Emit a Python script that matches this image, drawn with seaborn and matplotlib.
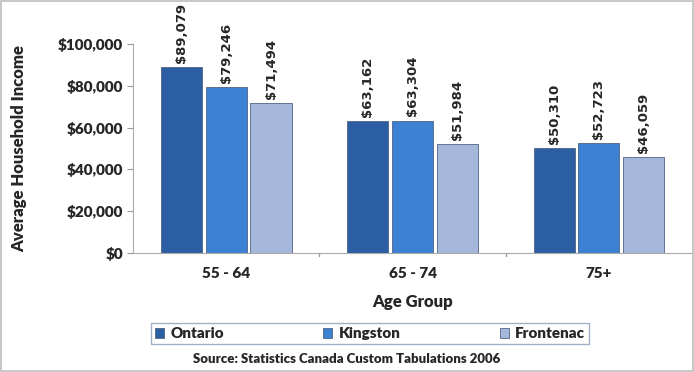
# average household income by age group, Ontario / Kingston / Frontenac
import pandas as pd
import matplotlib.pyplot as plt
import seaborn as sns

age_groups = ["55 - 64", "65 - 74", "75+"]
regions = ["Ontario", "Kingston", "Frontenac"]
ontario = [89079, 63162, 50310]
kingston = [79246, 63304, 52723]
frontenac = [71494, 51984, 46059]
colors = ["#2C5EA3", "#3D81D3", "#A5B7DA"]

df = pd.DataFrame({
    "age": age_groups * 3,
    "region": [r for r in regions for _ in age_groups],
    "income": ontario + kingston + frontenac,
})

sns.set_style("white")
plt.rcParams["font.family"] = ["Lato", "DejaVu Sans"]

fig = plt.figure(figsize=(6.94, 3.72), dpi=100)
fig.patch.set_edgecolor("#C8C8C8")
fig.patch.set_linewidth(1.5)
ax = fig.add_axes([0.192, 0.32, 0.805, 0.562])

sns.barplot(data=df, x="age", y="income", hue="region", order=age_groups,
            hue_order=regions, palette=colors, saturation=1, width=0.72,
            gap=0.08, edgecolor="#4F6484", linewidth=0.6, ax=ax, legend=True)

# value labels above each bar
for cont in ax.containers:
    ax.bar_label(cont, labels=[f"${v:,.0f}" for v in cont.datavalues],
                 rotation=90, padding=3, fontsize=9.5, fontweight="bold",
                 family="DejaVu Sans Condensed", clip_on=False)

ax.set_ylim(0, 100000)
ax.set_yticks(range(0, 100001, 20000))
ax.set_yticklabels([f"${v:,.0f}" for v in range(0, 100001, 20000)],
                   fontweight="heavy", fontsize=11)
ax.set_xticks(range(3))
ax.set_xticklabels(age_groups, fontweight="heavy", fontsize=11)
ax.set_xlim(-0.5, 2.5)
ax.tick_params(axis="x", length=0, pad=10)
ax.tick_params(axis="y", length=4, color="#999999", left=True, direction="out")
for pos in [0.5, 1.5]:
    ax.plot([pos, pos], [0, -1500], color="#999999", lw=1, clip_on=False)

ax.set_xlabel("Age Group", fontweight="heavy", fontsize=12, labelpad=10)
ax.set_ylabel("Average Household Income", fontweight="heavy", fontsize=12)
ax.yaxis.set_label_coords(-0.19, 0.5)

sns.despine(ax=ax, top=True, right=True)
ax.spines["left"].set_color("#AAAAAA")
ax.spines["bottom"].set_color("#AAAAAA")

handles, labels = ax.get_legend_handles_labels()
ax.legend_.remove()
leg = fig.legend(handles, labels, ncol=3, loc="center",
                 bbox_to_anchor=(0.533, 0.103), frameon=True, fancybox=False,
                 edgecolor="#8A9BB8", handlelength=0.6, handleheight=0.6,
                 columnspacing=6.5, handletextpad=0.4, borderpad=0.25,
                 prop={"weight": "heavy", "size": 11})

fig.text(0.5, 0.025, "Source: Statistics Canada Custom Tabulations 2006",
         ha="center", fontsize=9.5, fontweight="heavy")

fig.savefig("out.png", dpi=100, edgecolor=fig.get_edgecolor())
